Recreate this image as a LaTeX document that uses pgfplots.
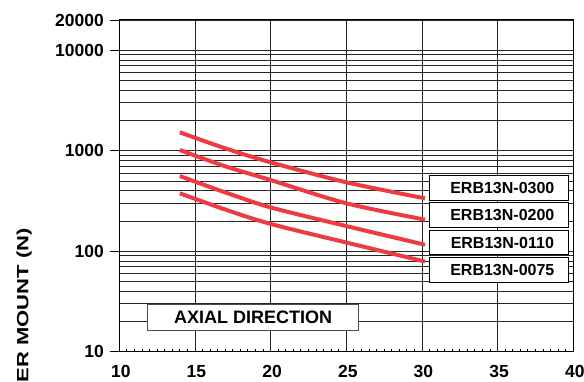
\documentclass[border=0pt]{standalone}
\usepackage{graphicx}
\usepackage{pgfplots}
\pgfplotsset{compat=1.18}
\usepackage{fontspec}
\setmainfont{Liberation Sans}
\definecolor{curvered}{RGB}{238,58,66}
\begin{document}
\begin{tikzpicture}[x=1pt,y=1pt]
\begin{axis}[
  at={(0,0)}, anchor=south west,
  scale only axis, width=454pt, height=331.7pt,
  xmin=10, xmax=40, ymode=log, ymin=10, ymax=20000,
  xtick={10,15,20,25,30,35,40}, minor x tick num=9,
  ytick={10,100,1000,10000,20000},
  yticklabels={10,100,1000,10000,20000},
  minor ytick={20,30,40,50,60,70,80,90,200,300,400,500,600,700,800,900,2000,3000,4000,5000,6000,7000,8000,9000},
  xmajorgrids, ymajorgrids, yminorgrids,
  major grid style={black!85, line width=0.9pt},
  minor grid style={black!85, line width=0.9pt},
  axis line style={black, line width=1pt},
  tick pos=left,
  tick align=outside,
  major tick length=9pt, minor tick length=3pt,
  tick style={black, line width=0.9pt},
  major x tick style={draw=none},
  minor y tick style={draw=none},
  minor x tick style={yshift=3pt},
  ticklabel style={font=\fontsize{17.5}{20}\selectfont\bfseries},
  /pgf/number format/assume math mode=true,
  xticklabel style={yshift=-1pt, xshift=1.5pt},
  yticklabel style={xshift=-3pt},
]
\addplot[curvered, line width=4pt, smooth] coordinates {(14,1524) (17,1057) (20,767) (25,485) (30.2,336)};
\addplot[curvered, line width=4pt, smooth] coordinates {(14,1016) (17,700) (20,511) (25,300) (30.2,206)};
\addplot[curvered, line width=4pt, smooth] coordinates {(14,560) (17,385) (20,273) (25,178) (30.2,116)};
\addplot[curvered, line width=4pt, smooth] coordinates {(14,377) (17,260) (20,187) (25,122) (30.2,79)};
\tikzset{lbl/.style={draw=black, line width=1pt, fill=white, minimum width=139pt, minimum height=24.7pt, inner sep=0pt, font=\fontsize{16}{18}\selectfont\bfseries}}
\node[lbl] at (axis cs:35.08,423) {\hspace*{7pt}ERB13N-0300};
\node[lbl] at (axis cs:35.08,229) {\hspace*{7pt}ERB13N-0200};
\node[lbl] at (axis cs:35.08,122) {\hspace*{7pt}ERB13N-0110};
\node[lbl] at (axis cs:35.08,65) {\hspace*{7pt}ERB13N-0075};
\node[draw=black!70, line width=1pt, fill=white, minimum width=210.6pt, minimum height=25.7pt, inner sep=0pt, font=\fontsize{18}{20}\selectfont\bfseries] at (axis cs:18.84,22) {AXIAL DIRECTION};
\end{axis}
\node[rotate=90, anchor=base east, inner sep=0pt] at (-91,123.7) {\scalebox{1}[0.74]{\fontsize{22}{24}\selectfont\bfseries LOAD PER MOUNT (N)}};
\pgfresetboundingbox
\path[use as bounding box] (-119.3,-29.3) rectangle (464.7,351.7);
\end{tikzpicture}
\end{document}
